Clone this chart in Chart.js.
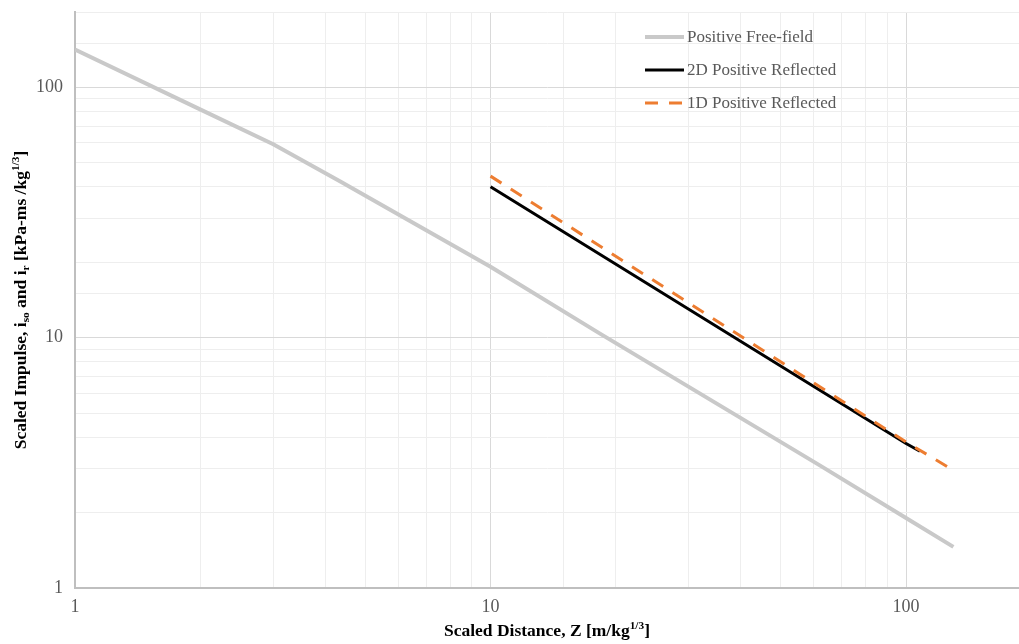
<!doctype html>
<html lang="en">
<head>
    <meta charset="utf-8">
    <script src="https://cdn.jsdelivr.net/npm/chart.js/dist/chart.umd.min.js"></script>
    <title>Scaled Impulse vs Scaled Distance</title>
    <style>
        * { margin: 0; padding: 0; }
        body { background: #fff; }
        .chartBox { width: 1019px; height: 644px; }
    </style>
</head>
<body>
    <div class="chartBox">
        <canvas id="impulseChart"></canvas>
    </div>

    <script>
    // values (Z in m/kg^1/3, impulse in kPa-ms/kg^1/3)
    var freeFieldZ = [1, 2, 3, 4.34, 10, 18.3, 62, 100, 130];
    var freeFieldI = [141.6, 81.7, 59.3, 42.2, 19.2, 10.4, 3.09, 1.905, 1.46];
    var reflected2DZ = [10, 100, 108];
    var reflected2DI = [40.1, 3.78, 3.52];
    var reflected1DZ = [10, 100, 128];
    var reflected1DI = [44.2, 3.83, 3.0];
    var seriesNames = ['Positive Free-field', '2D Positive Reflected', '1D Positive Reflected'];
    var decadeLabels = [1, 10, 100];

    function toPoints(xs, ys) {
        return xs.map(function (x, i) { return { x: x, y: ys[i] }; });
    }

    var serif = '"Liberation Serif", "Times New Roman", serif';
    var textGray = '#595959';

    function isDecade(v) {
        return decadeLabels.indexOf(v) !== -1;
    }

    // draws a run of text pieces, some as sub / superscript
    function drawRich(c, parts, cx, cy, size) {
        c.save();
        c.textBaseline = 'alphabetic';
        c.textAlign = 'left';
        var total = 0;
        parts.forEach(function (p) {
            c.font = 'bold ' + (p.s ? size * 0.65 : size) + 'px ' + serif;
            total += c.measureText(p.t).width;
        });
        var x = cx - total / 2;
        var base = cy + size * 0.33;
        parts.forEach(function (p) {
            c.font = 'bold ' + (p.s ? size * 0.65 : size) + 'px ' + serif;
            var dy = p.s === 'sup' ? -size * 0.38 : (p.s === 'sub' ? size * 0.2 : 0);
            c.fillText(p.t, x, base + dy);
            x += c.measureText(p.t).width;
        });
        c.restore();
    }

    var titlesAndLegend = {
        id: 'titlesAndLegend',
        afterDraw: function (chart) {
            var c = chart.ctx;
            var area = chart.chartArea;
            c.fillStyle = '#000';

            drawRich(c, [
                { t: 'Scaled Distance, Z [m/kg' },
                { t: '1/3', s: 'sup' },
                { t: ']' }
            ], (area.left + area.right) / 2, 630, 17.5);

            c.save();
            c.translate(20, (area.top + area.bottom) / 2);
            c.rotate(-Math.PI / 2);
            drawRich(c, [
                { t: 'Scaled Impulse, i' },
                { t: 'so', s: 'sub' },
                { t: ' and i' },
                { t: 'r', s: 'sub' },
                { t: ' [kPa-ms /kg' },
                { t: '1/3', s: 'sup' },
                { t: ']' }
            ], 0, 0, 17.5);
            c.restore();

            // legend inside the plot, top right
            chart.data.datasets.forEach(function (ds, i) {
                var y = 37 + i * 33;
                c.save();
                c.strokeStyle = ds.borderColor;
                c.lineWidth = ds.borderWidth;
                c.setLineDash(ds.borderDash || []);
                c.beginPath();
                c.moveTo(645, y);
                c.lineTo(684, y);
                c.stroke();
                c.restore();
                c.save();
                c.fillStyle = textGray;
                c.font = '17px ' + serif;
                c.textBaseline = 'middle';
                c.fillText(ds.label, 687, y + 1);
                c.restore();
            });
        }
    };

    var ctx = document.getElementById('impulseChart');
    var impulseChart = new Chart(ctx, {
        type: 'line',
        data: {
            datasets: [{
                label: seriesNames[0],
                data: toPoints(freeFieldZ, freeFieldI),
                borderColor: '#c9c9c9',
                borderWidth: 4,
                order: 3
            }, {
                label: seriesNames[1],
                data: toPoints(reflected2DZ, reflected2DI),
                borderColor: '#000000',
                borderWidth: 3,
                order: 2
            }, {
                label: seriesNames[2],
                data: toPoints(reflected1DZ, reflected1DI),
                borderColor: '#ed7d31',
                borderWidth: 3,
                borderDash: [13, 11],
                order: 1
            }]
        },
        options: {
            responsive: true,
            maintainAspectRatio: false,
            animation: false,
            elements: { point: { radius: 0 }, line: { tension: 0 } },
            layout: { padding: { top: 12, right: 0, left: 0, bottom: 0 } },
            plugins: {
                legend: { display: false },
                tooltip: { enabled: false }
            },
            scales: {
                x: {
                    type: 'logarithmic',
                    min: 1,
                    max: 187,
                    afterFit: function (scale) {
                        scale.height = 56;
                        scale.paddingLeft = 0;
                        scale.paddingRight = 0;
                    },
                    border: { color: '#bfbfbf', width: 2 },
                    grid: {
                        drawTicks: false,
                        color: function (c) {
                            var v = c.tick && c.tick.value;
                            if (v > 100) return 'rgba(0,0,0,0)';
                            return isDecade(v) ? '#d9d9d9' : '#eeeeee';
                        }
                    },
                    ticks: {
                        autoSkip: false,
                        maxRotation: 0,
                        padding: 8,
                        color: textGray,
                        font: { family: serif, size: 18 },
                        callback: function (v) { return isDecade(v) ? String(v) : ''; }
                    }
                },
                y: {
                    type: 'logarithmic',
                    min: 1,
                    max: 200,
                    afterFit: function (scale) {
                        scale.width = 75;
                        scale.paddingTop = 0;
                        scale.paddingBottom = 0;
                    },
                    border: { color: '#bfbfbf', width: 2 },
                    grid: {
                        drawTicks: false,
                        color: function (c) {
                            var v = c.tick && c.tick.value;
                            return isDecade(v) ? '#d9d9d9' : '#eeeeee';
                        }
                    },
                    ticks: {
                        autoSkip: false,
                        padding: 12,
                        color: textGray,
                        font: { family: serif, size: 18 },
                        callback: function (v) { return isDecade(v) ? String(v) : ''; }
                    }
                }
            }
        },
        plugins: [titlesAndLegend]
    });
    </script>
</body>
</html>
